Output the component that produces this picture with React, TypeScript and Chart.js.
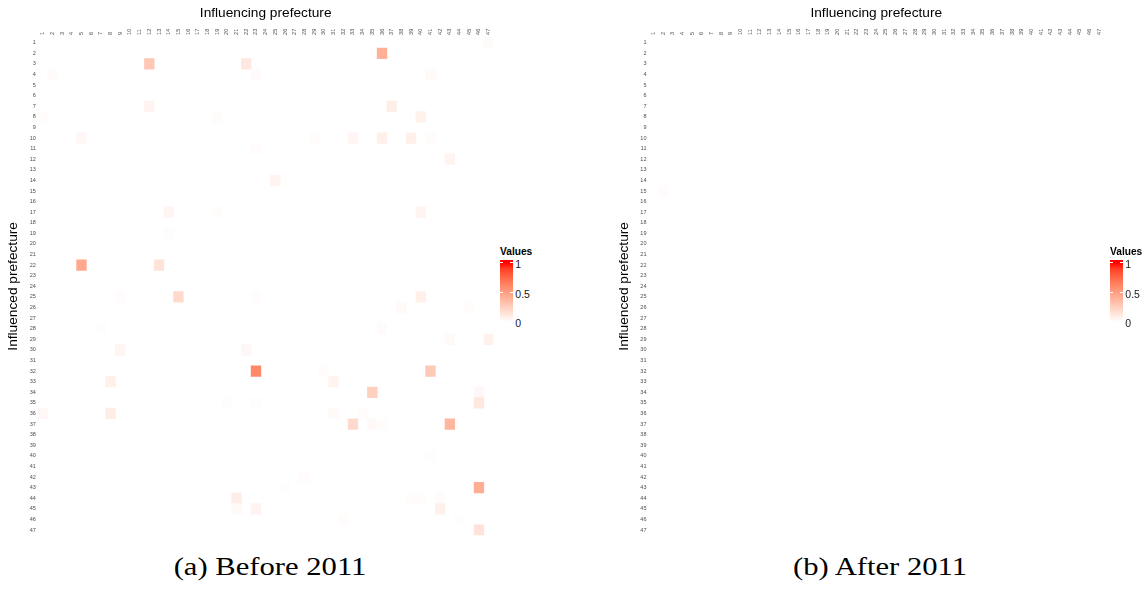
import React, { useEffect, useRef } from "react";
import { Chart, registerables } from "chart.js";

Chart.register(...registerables);

// ---------- data ----------
const PREFECTURES = [
  "1", "2", "3", "4", "5", "6", "7", "8", "9", "10", "11", "12", "13", "14", "15", "16",
  "17", "18", "19", "20", "21", "22", "23", "24", "25", "26", "27", "28", "29", "30", "31",
  "32", "33", "34", "35", "36", "37", "38", "39", "40", "41", "42", "43", "44", "45", "46", "47",
];

// [influenced prefecture (row), influencing prefecture (column), value]
const BEFORE_2011: Array<[number, number, number]> = [
  [1, 47, 0.02],
  [2, 36, 0.41],
  [3, 12, 0.29], [3, 22, 0.12],
  [4, 2, 0.02], [4, 23, 0.02], [4, 41, 0.03],
  [7, 12, 0.06], [7, 37, 0.09],
  [8, 1, 0.015], [8, 19, 0.02], [8, 40, 0.07],
  [10, 5, 0.04], [10, 29, 0.015], [10, 33, 0.05], [10, 36, 0.08], [10, 39, 0.08], [10, 41, 0.02],
  [11, 23, 0.015],
  [12, 43, 0.06],
  [14, 25, 0.06],
  [17, 14, 0.05], [17, 19, 0.01], [17, 40, 0.06],
  [19, 14, 0.01],
  [22, 5, 0.45], [22, 13, 0.15],
  [25, 9, 0.015], [25, 15, 0.2], [25, 23, 0.015], [25, 40, 0.08],
  [26, 38, 0.03], [26, 45, 0.015],
  [28, 7, 0.01], [28, 36, 0.02],
  [29, 43, 0.03], [29, 47, 0.07],
  [30, 9, 0.05], [30, 22, 0.04],
  [32, 23, 0.6], [32, 30, 0.015], [32, 41, 0.28],
  [33, 8, 0.08], [33, 31, 0.06],
  [34, 35, 0.25], [34, 46, 0.04],
  [35, 20, 0.01], [35, 23, 0.01], [35, 46, 0.12],
  [36, 1, 0.04], [36, 8, 0.1], [36, 31, 0.03], [36, 34, 0.015],
  [37, 33, 0.2], [37, 35, 0.03], [37, 36, 0.01], [37, 43, 0.38],
  [40, 41, 0.01],
  [42, 28, 0.015],
  [43, 26, 0.01], [43, 46, 0.42],
  [44, 21, 0.09], [44, 39, 0.015], [44, 40, 0.015], [44, 42, 0.02],
  [45, 21, 0.03], [45, 23, 0.06], [45, 42, 0.08],
  [46, 32, 0.015], [46, 44, 0.01],
  [47, 46, 0.15],
];

const AFTER_2011: Array<[number, number, number]> = [[15, 2, 0.015]];

const LEGEND_TICKS = [1, 0.5, 0];
const LEGEND_LABELS = ["1", "0.5", "0"];
const CAPTIONS = ["(a) Before 2011", "(b) After 2011"];
const X_TITLE = "Influencing prefecture";
const Y_TITLE = "Influenced prefecture";
const LEGEND_TITLE = "Values";

// ---------- colour scale (white -> red, CIELAB interpolation) ----------
const toLin = (c: number) => {
  const v = c / 255;
  return v <= 0.04045 ? v / 12.92 : Math.pow((v + 0.055) / 1.055, 2.4);
};
const fromLin = (c: number) => {
  const v = c <= 0.0031308 ? 12.92 * c : 1.055 * Math.pow(c, 1 / 2.4) - 0.055;
  return Math.round(Math.max(0, Math.min(1, v)) * 255);
};
const XN = 0.95047, YN = 1, ZN = 1.08883;
function rgbToLab(r: number, g: number, b: number) {
  const R = toLin(r), G = toLin(g), B = toLin(b);
  const X = (0.4124 * R + 0.3576 * G + 0.1805 * B) / XN;
  const Y = (0.2126 * R + 0.7152 * G + 0.0722 * B) / YN;
  const Z = (0.0193 * R + 0.1192 * G + 0.9505 * B) / ZN;
  const f = (t: number) => (t > 0.008856 ? Math.cbrt(t) : 7.787 * t + 16 / 116);
  const fx = f(X), fy = f(Y), fz = f(Z);
  return [116 * fy - 16, 500 * (fx - fy), 200 * (fy - fz)];
}
function labToRgb(L: number, a: number, b: number) {
  const fy = (L + 16) / 116;
  const fx = fy + a / 500;
  const fz = fy - b / 200;
  const inv = (t: number) => (t * t * t > 0.008856 ? t * t * t : (t - 16 / 116) / 7.787);
  const X = inv(fx) * XN, Y = inv(fy) * YN, Z = inv(fz) * ZN;
  const R = 3.2406 * X - 1.5372 * Y - 0.4986 * Z;
  const G = -0.9689 * X + 1.8758 * Y + 0.0415 * Z;
  const B = 0.0557 * X - 0.204 * Y + 1.057 * Z;
  return [fromLin(R), fromLin(G), fromLin(B)];
}
const LOW = rgbToLab(255, 255, 255);
const HIGH = rgbToLab(255, 0, 0);
function valueColor(v: number) {
  const t = Math.max(0, Math.min(1, v));
  const [r, g, b] = labToRgb(
    LOW[0] + (HIGH[0] - LOW[0]) * t,
    LOW[1] + (HIGH[1] - LOW[1]) * t,
    LOW[2] + (HIGH[2] - LOW[2]) * t
  );
  return `rgb(${r},${g},${b})`;
}

// ---------- layout ----------
const SANS = "'Liberation Sans', Arial, Helvetica, sans-serif";
const CANVAS_H = 545;
const PLOT_TOP = 37.4;
const PLOT_BOTTOM = 535.3;
const TICK_SIZE = 5.5;

type PanelProps = {
  cells: Array<[number, number, number]>;
  left: number;
  width: number;
  plotLeft: number;
  plotRight: number;
  legendX: number;
  caption: string;
  captionX: number;
};

function Panel({ cells, left, width, plotLeft, plotRight, legendX, caption, captionX }: PanelProps) {
  const ref = useRef<HTMLCanvasElement>(null);

  useEffect(() => {
    if (!ref.current) return;
    const tickFont = { family: SANS, size: TICK_SIZE, lineHeight: 1.2 };
    const titleFont = { family: SANS, size: 13.7 };
    const chart = new Chart(ref.current, {
      type: "bar",
      data: {
        labels: PREFECTURES,
        datasets: [
          {
            data: cells.map(([r, c]) => ({ x: PREFECTURES[c - 1], y: [r - 0.5, r + 0.5] })) as any,
            backgroundColor: cells.map(([, , v]) => valueColor(v)),
            borderWidth: 0,
            categoryPercentage: 1,
            barPercentage: 1,
          },
        ],
      },
      options: {
        animation: false,
        responsive: false,
        maintainAspectRatio: false,
        layout: {
          padding: { left: 0, top: 0, right: width - plotRight, bottom: CANVAS_H - PLOT_BOTTOM },
        },
        plugins: { legend: { display: false }, tooltip: { enabled: false } },
        scales: {
          x: {
            type: "category",
            position: "top",
            grid: { display: false, drawTicks: false },
            border: { display: false },
            ticks: {
              autoSkip: false,
              minRotation: 90,
              maxRotation: 90,
              padding: 2.5,
              labelOffset: TICK_SIZE * 1.2,
              color: "#4D4D4D",
              font: tickFont,
            },
            title: {
              display: true,
              text: X_TITLE,
              color: "#000",
              font: titleFont,
              padding: { top: 5.3, bottom: 0 },
            },
            afterFit: (s: any) => {
              s.height = PLOT_TOP;
            },
          },
          y: {
            type: "linear",
            reverse: true,
            min: 0.5,
            max: 47.5,
            grid: { display: false, drawTicks: false },
            border: { display: false },
            afterBuildTicks: (s: any) => {
              s.ticks = PREFECTURES.map((p) => ({ value: Number(p) }));
            },
            ticks: {
              autoSkip: false,
              padding: 2,
              color: "#4D4D4D",
              font: tickFont,
              callback: (v: any) => String(v),
            },
            title: {
              display: true,
              text: Y_TITLE,
              color: "#000",
              font: titleFont,
              padding: { top: 5.3 + (plotLeft - 37.85), bottom: 0 },
            },
            afterFit: (s: any) => {
              s.width = plotLeft;
            },
          },
        },
      } as any,
    });
    return () => chart.destroy();
  }, [cells, width, plotLeft, plotRight]);

  const barTop = 260;
  const barH = 63;
  const zeroY = 321.9;
  const unit = 59.2;
  const stops: string[] = ["rgb(255,0,0) 0%"];
  for (let i = 10; i >= 0; i--) {
    const v = i / 10;
    const y = zeroY - unit * v;
    stops.push(`${valueColor(v)} ${(((y - barTop) / barH) * 100).toFixed(2)}%`);
  }
  stops.push("rgb(255,255,255) 100%");

  return (
    <>
      <canvas
        ref={ref}
        width={width}
        height={CANVAS_H}
        style={{ position: "absolute", left, top: 0, width, height: CANVAS_H }}
      />
      <div
        style={{
          position: "absolute",
          left: legendX,
          top: 245.8,
          fontFamily: SANS,
          fontWeight: "bold",
          fontSize: 10.2,
          lineHeight: "12px",
          color: "#000",
          whiteSpace: "nowrap",
        }}
      >
        {LEGEND_TITLE}
      </div>
      <div
        style={{
          position: "absolute",
          left: legendX,
          top: barTop,
          width: 12.7,
          height: barH,
          background: `linear-gradient(to bottom, ${stops.join(", ")})`,
        }}
      />
      {LEGEND_TICKS.map((v, i) => {
        const y = zeroY - unit * v;
        return (
          <React.Fragment key={i}>
            <div style={{ position: "absolute", left: legendX, top: y - 0.5, width: 2.5, height: 1, background: "#fff" }} />
            <div style={{ position: "absolute", left: legendX + 10.2, top: y - 0.5, width: 2.5, height: 1, background: "#fff" }} />
            <div
              style={{
                position: "absolute",
                left: legendX + 15.3,
                top: y + 1.3 - 5.87,
                fontFamily: SANS,
                fontSize: 10.5,
                lineHeight: "12px",
                color: "#1A1A1A",
                whiteSpace: "nowrap",
              }}
            >
              {LEGEND_LABELS[i]}
            </div>
          </React.Fragment>
        );
      })}
      <div
        style={{
          position: "absolute",
          left: captionX - 200,
          top: 551.6,
          width: 400,
          textAlign: "center",
          fontFamily: "'Liberation Serif', 'Times New Roman', serif",
          fontSize: 25,
          lineHeight: "30px",
          color: "#000",
          transform: "scaleX(1.225)",
          whiteSpace: "nowrap",
        }}
      >
        {caption}
      </div>
    </>
  );
}

export default function App() {
  return (
    <div
      style={{
        position: "absolute",
        left: 0,
        top: 0,
        width: 1145,
        height: 591,
        overflow: "hidden",
        background: "#fff",
      }}
    >
      <Panel
        cells={BEFORE_2011}
        left={0}
        width={500}
        plotLeft={37.85}
        plotRight={493.5}
        legendX={500}
        caption={CAPTIONS[0]}
        captionX={270}
      />
      <Panel
        cells={AFTER_2011}
        left={600}
        width={545}
        plotLeft={48.45}
        plotRight={504.1}
        legendX={1110}
        caption={CAPTIONS[1]}
        captionX={880}
      />
    </div>
  );
}
